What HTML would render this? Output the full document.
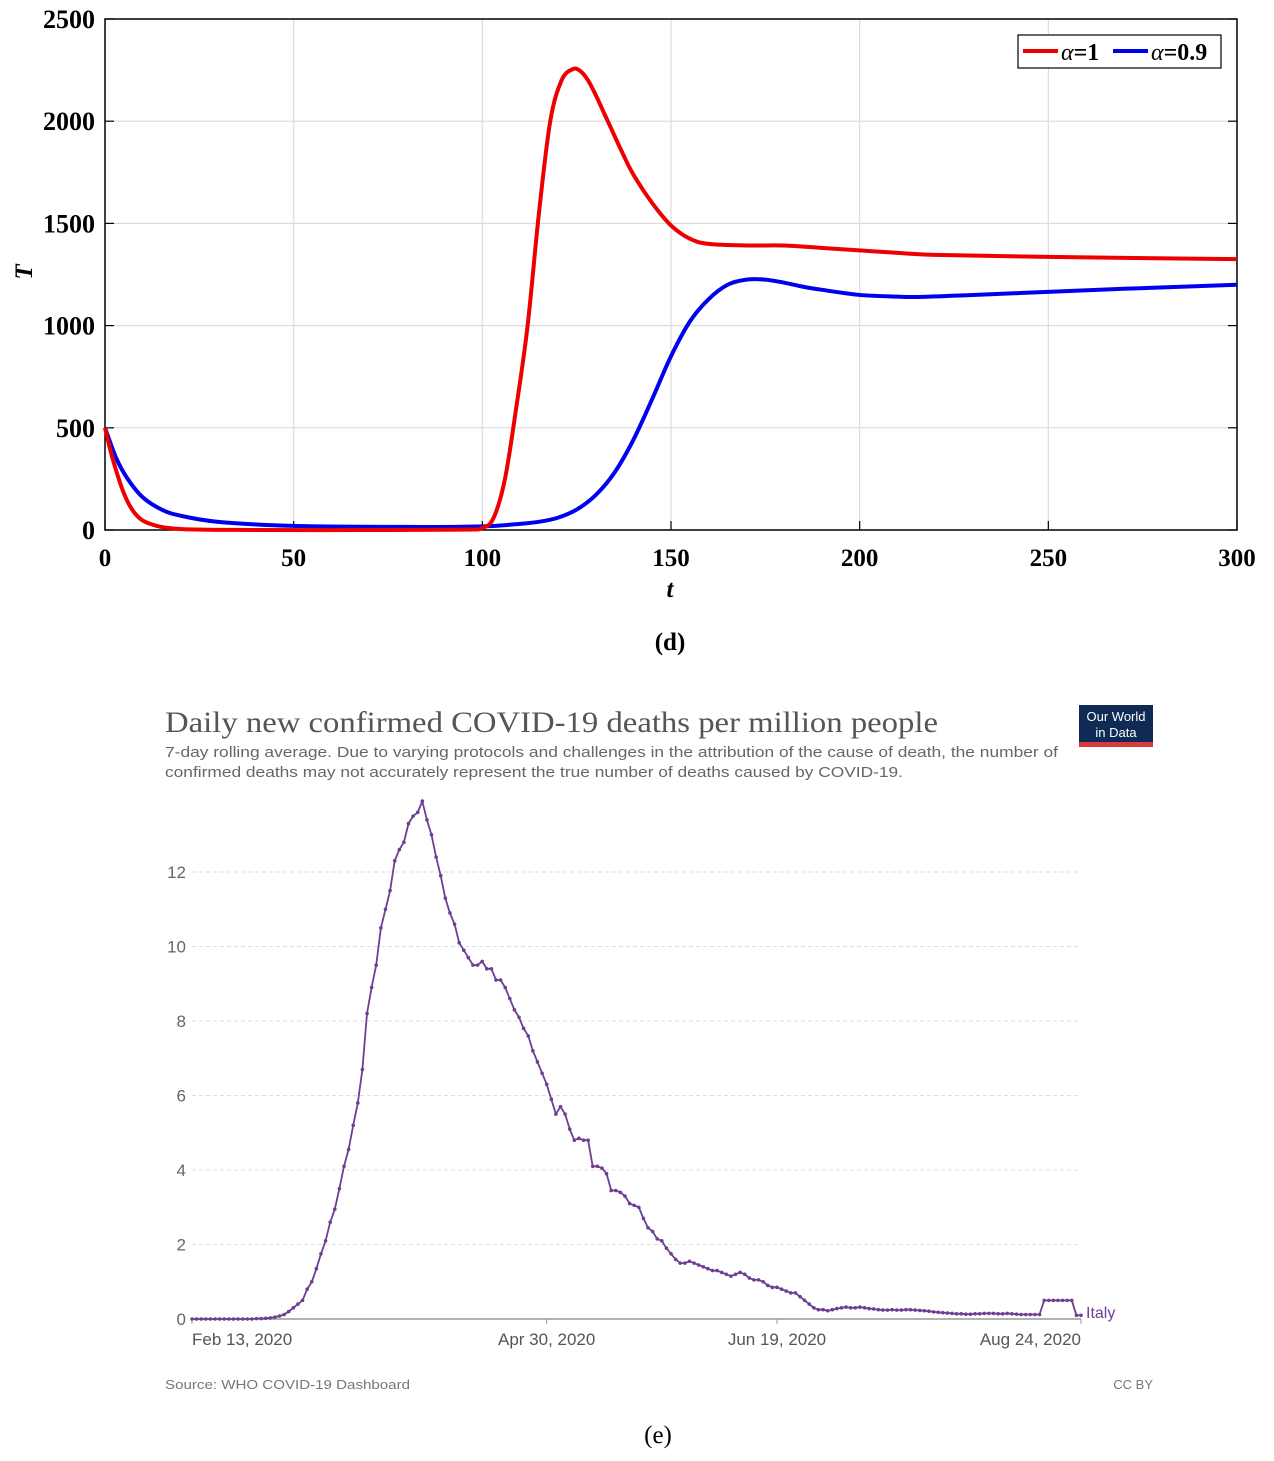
<!DOCTYPE html>
<html><head><meta charset="utf-8">
<style>
html,body{margin:0;padding:0;background:#fff;}
body{width:1274px;height:1461px;position:relative;overflow:hidden;}
svg{position:absolute;left:0;top:0;}
</style></head>
<body>
<svg width="1274" height="1461" viewBox="0 0 1274 1461">
  <g id="topchart"></g>
  <g id="botchart"></g>
</svg>
<script>
// ---------- Top chart data ----------
const tTicks = [0,50,100,150,200,250,300];
const TTicks = [0,500,1000,1500,2000,2500];
const redT   = [0,2,5,8,12,20,40,70,95,100,103,106,109,112,115,118,121,124,126,128,130,132,134,137,140,145,150,155,160,170,180,190,200,210,220,250,300];
const redV   = [500,350,180,80,30,5,0,0,2,10,60,250,600,1000,1550,2000,2200,2255,2245,2200,2130,2050,1970,1850,1740,1600,1490,1425,1400,1392,1392,1380,1368,1356,1346,1336,1325];
const blueT  = [0,3,6,10,15,20,30,50,80,100,110,115,120,125,130,135,140,145,150,155,160,165,170,175,180,185,190,200,210,215,230,250,270,300];
const blueV  = [500,350,250,160,100,70,40,20,15,18,30,40,60,100,170,280,440,640,850,1020,1130,1200,1225,1225,1210,1190,1175,1150,1142,1140,1150,1165,1180,1200];

// ---------- Bottom chart data ----------
const yTicksB = [0,2,4,6,8,10,12];
const dateLabels = ["Feb 13, 2020","Apr 30, 2020","Jun 19, 2020","Aug 24, 2020"];
const dateDays = [0,77,127,193];
const italy = [0,0,0,0,0,0,0,0,0,0,0,0,0,0,0.01,
0.01,0.02,0.03,0.05,0.08,0.12,0.2,0.3,
0.4,0.5,0.8,1.0,1.35,1.75,2.1,
2.6,2.95,3.5,4.1,4.55,5.2,5.8,6.7,
8.2,8.9,9.5,10.5,11.0,11.5,12.3,12.6,
12.8,13.3,13.5,13.6,13.9,
13.4,13.0,12.4,11.9,11.3,10.9,10.6,10.1,
9.9,9.7,9.5,9.5,9.6,9.4,9.4,9.1,9.1,
8.9,8.6,8.3,8.1,7.8,7.6,7.2,6.9,
6.6,6.3,5.9,5.5,5.7,5.5,5.1,4.8,
4.85,4.8,4.8,4.1,4.1,4.05,3.9,
3.45,3.45,3.4,3.3,3.1,3.05,3.0,2.7,2.45,
2.35,2.15,2.1,1.9,1.75,1.6,1.5,1.5,
1.55,1.5,1.45,1.4,1.35,1.3,1.3,1.25,
1.2,1.15,1.2,1.25,1.2,1.1,1.05,1.05,
1.0,0.9,0.85,0.85,0.8,0.75,0.7,0.7,
0.6,0.5,0.4,0.3,0.25,0.25,0.22,0.25,
0.28,0.3,0.32,0.3,0.3,0.32,0.3,0.28,
0.27,0.25,0.24,0.24,0.25,0.24,0.24,0.25,
0.25,0.24,0.23,0.22,0.21,0.19,0.18,0.17,
0.16,0.15,0.14,0.14,0.13,0.13,0.14,0.14,
0.15,0.15,0.15,0.14,0.14,0.15,0.14,0.13,
0.12,0.12,0.12,0.12,0.12,0.5,0.5,
0.5,0.5,0.5,0.5,0.5,0.1,0.1];

const NS='http://www.w3.org/2000/svg';
function mk(tag, attrs, parent, text){
  const e=document.createElementNS(NS,tag);
  for(const k in attrs) e.setAttribute(k,attrs[k]);
  if(text!==undefined) e.textContent=text;
  parent.appendChild(e); return e;
}
// ===== TOP =====
const topG=document.getElementById('topchart');
const L=105,R=1237,T=19,B=530;
const xT=t=>L+(t/300)*(R-L);
const yT=v=>B-(v/2500)*(B-T);
tTicks.forEach(t=>{
  if(t>0&&t<300){const g=mk('line',{x1:xT(t),x2:xT(t),y1:T,y2:B,stroke:'#dcdcdc','stroke-width':1.2},topG);
  }
  const tk=mk('line',{x1:xT(t),x2:xT(t),y1:B,y2:B-9,stroke:'#000','stroke-width':1.2},topG);
  
  const tx=mk('text',{x:xT(t),y:566,'text-anchor':'middle','font-family':'Liberation Serif, serif','font-weight':'bold','font-size':25},topG,String(t));
  
});
TTicks.forEach(v=>{
  if(v>0&&v<2500){const g=mk('line',{x1:L,x2:R,y1:yT(v),y2:yT(v),stroke:'#dcdcdc','stroke-width':1.2},topG);
  }
  const tk=mk('line',{x1:L,x2:L+9,y1:yT(v),y2:yT(v),stroke:'#000','stroke-width':1.2},topG);
  
  const tk2=mk('line',{x1:R,x2:R-9,y1:yT(v),y2:yT(v),stroke:'#000','stroke-width':1.2},topG);
  
  const tx=mk('text',{x:95,y:yT(v)+9,'text-anchor':'end','font-family':'Liberation Serif, serif','font-weight':'bold','font-size':26},topG,String(v));
  
});
const frame=mk('rect',{x:L,y:T,width:R-L,height:B-T,fill:'none',stroke:'#000','stroke-width':1.5},topG);

function smooth(pts){
  let d='M'+pts[0][0].toFixed(1)+','+pts[0][1].toFixed(1);
  for(let i=0;i<pts.length-1;i++){
    const p0=pts[i-1]||pts[i],p1=pts[i],p2=pts[i+1],p3=pts[i+2]||p2;
    const c1=[p1[0]+(p2[0]-p0[0])/6,p1[1]+(p2[1]-p0[1])/6];
    const c2=[p2[0]-(p3[0]-p1[0])/6,p2[1]-(p3[1]-p1[1])/6];
    d+=' C'+c1.join(',')+' '+c2.join(',')+' '+p2.join(',');
  }
  return d;
}
const blueP=mk('path',{d:smooth(blueT.map((t,i)=>[xT(t),yT(blueV[i])])),fill:'none',stroke:'#0000ee','stroke-width':4,'stroke-linejoin':'round'},topG);

const redP=mk('path',{d:smooth(redT.map((t,i)=>[xT(t),yT(redV[i])])),fill:'none',stroke:'#ee0000','stroke-width':4,'stroke-linejoin':'round'},topG);

// legend
const lg=mk('g',{},topG);

mk('rect',{x:1018,y:35,width:203,height:33,fill:'#fff',stroke:'#000','stroke-width':1.2},lg);
mk('line',{x1:1023,x2:1058,y1:51,y2:51,stroke:'#ee0000','stroke-width':4},lg);
const l1=mk('text',{x:1061,y:60,'font-family':'Liberation Serif, serif','font-weight':'bold','font-size':24},lg);
mk('tspan',{'font-style':'italic','font-weight':'normal'},l1,'α');
mk('tspan',{},l1,'=1');

mk('line',{x1:1113,x2:1148,y1:51,y2:51,stroke:'#0000ee','stroke-width':4},lg);
const l2=mk('text',{x:1151,y:60,'font-family':'Liberation Serif, serif','font-weight':'bold','font-size':24},lg);
mk('tspan',{'font-style':'italic','font-weight':'normal'},l2,'α');
mk('tspan',{},l2,'=0.9');

const xt=mk('text',{x:670,y:597,'text-anchor':'middle','font-family':'Liberation Serif, serif','font-weight':'bold','font-style':'italic','font-size':25},topG,'t');

const yt=mk('text',{x:0,y:0,transform:'translate(32,272) rotate(-90)','text-anchor':'middle','font-family':'Liberation Serif, serif','font-weight':'bold','font-style':'italic','font-size':25},topG,'T');

const cd=mk('text',{x:670,y:650,'text-anchor':'middle','font-family':'Liberation Serif, serif','font-weight':'bold','font-size':25},topG,'(d)');


// ===== BOTTOM =====
const botG=document.getElementById('botchart');
const BL=192,BR=1081,BB=1319;
const xB=d=>BL+d*(BR-BL)/193;
const yB=v=>BB-v*37.25;
const title=mk('text',{x:165,y:732,'font-family':'Liberation Serif, serif','font-size':30,fill:'#555',textLength:773,lengthAdjust:'spacingAndGlyphs'},botG,'Daily new confirmed COVID-19 deaths per million people');

const s1=mk('text',{x:165,y:757,'font-family':'Liberation Sans, sans-serif','font-size':15,fill:'#666',textLength:893,lengthAdjust:'spacingAndGlyphs'},botG,'7-day rolling average. Due to varying protocols and challenges in the attribution of the cause of death, the number of');

const s2=mk('text',{x:165,y:777,'font-family':'Liberation Sans, sans-serif','font-size':15,fill:'#666',textLength:738,lengthAdjust:'spacingAndGlyphs'},botG,'confirmed deaths may not accurately represent the true number of deaths caused by COVID-19.');

const logo=mk('g',{},botG);

mk('rect',{x:1079,y:705,width:74,height:42,fill:'#102a56'},logo);
mk('rect',{x:1079,y:742,width:74,height:5,fill:'#d73b3e'},logo);
mk('text',{x:1116,y:721,'text-anchor':'middle','font-family':'Liberation Sans, sans-serif','font-size':13,fill:'#fff'},logo,'Our World');
mk('text',{x:1116,y:737,'text-anchor':'middle','font-family':'Liberation Sans, sans-serif','font-size':13,fill:'#fff'},logo,'in Data');
yTicksB.forEach(v=>{
  if(v>0){const g=mk('line',{x1:BL,x2:BR,y1:yB(v),y2:yB(v),stroke:'#ddd','stroke-width':1,'stroke-dasharray':'4,3'},botG);
  }
  const tx=mk('text',{x:186,y:yB(v)+6,'text-anchor':'end','font-family':'Liberation Sans, sans-serif','font-size':17,fill:'#666'},botG,String(v));
  
});
const ax=mk('line',{x1:BL,x2:BR,y1:BB,y2:BB,stroke:'#999','stroke-width':1.5},botG);

dateLabels.forEach((lab,i)=>{
  const x=xB(dateDays[i]);
  const tk=mk('line',{x1:x,x2:x,y1:BB,y2:BB+5,stroke:'#999','stroke-width':1},botG);
  
  const anchor=i===0?'start':(i===dateLabels.length-1?'end':'middle');
  const tx=mk('text',{x:x,y:1345,'text-anchor':anchor,'font-family':'Liberation Sans, sans-serif','font-size':17,fill:'#555'},botG,lab);
  
});
const pts=italy.map((v,i)=>xB(i).toFixed(1)+','+yB(v).toFixed(1)).join(' ');
const line=mk('polyline',{points:pts,fill:'none',stroke:'#6d3e91','stroke-width':1.8},botG);

italy.forEach((v,i)=>{
  const c=mk('circle',{cx:xB(i),cy:yB(v),r:1.8,fill:'#6d3e91'},botG);
  
  
});
const it=mk('text',{x:1086,y:1318,'font-family':'Liberation Sans, sans-serif','font-size':16,fill:'#6d3e91'},botG,'Italy');

const src=mk('text',{x:165,y:1389,'font-family':'Liberation Sans, sans-serif','font-size':13,fill:'#777',textLength:245,lengthAdjust:'spacingAndGlyphs'},botG,'Source: WHO COVID-19 Dashboard');

const cc=mk('text',{x:1153,y:1389,'text-anchor':'end','font-family':'Liberation Sans, sans-serif','font-size':13,fill:'#777'},botG,'CC BY');

const ce=mk('text',{x:658,y:1443,'text-anchor':'middle','font-family':'Liberation Serif, serif','font-size':25},botG,'(e)');

</script>
</body></html>
